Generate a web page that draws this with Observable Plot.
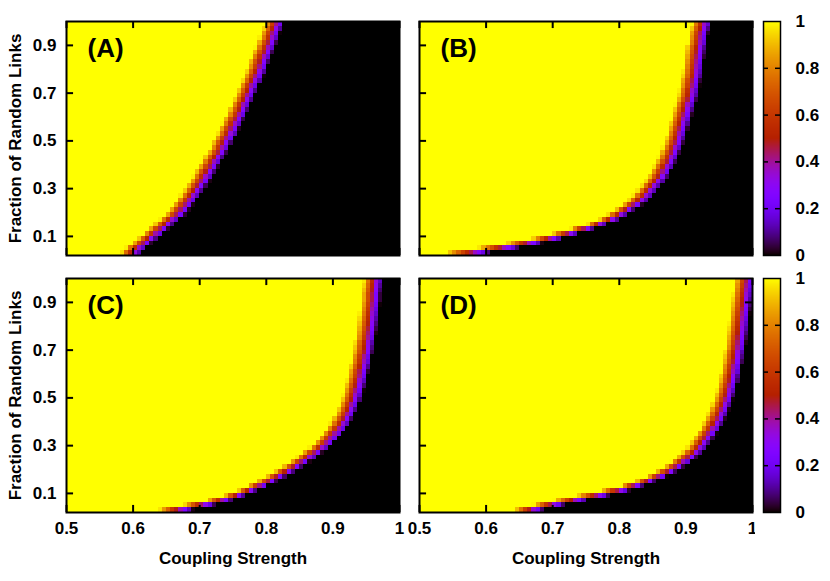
<!DOCTYPE html>
<html><head><meta charset="utf-8">
<script src="https://cdn.jsdelivr.net/npm/d3@7"></script>
<script src="https://cdn.jsdelivr.net/npm/@observablehq/plot@0.6"></script>
<style>
body{margin:0;background:#fff;}
#wrap{position:relative;width:830px;height:581px;}
#wrap svg{position:absolute;top:0;}
</style></head><body><div id="wrap"></div>
<script>
// ---- data ----
const panelNames = ["A", "B", "C", "D"];
const panelCol = {A: "left", B: "right", C: "left", D: "right"};
const panelRow = {A: "top", B: "top", C: "bottom", D: "bottom"};
// row centres (fraction of random links)
const rowY = [0.03,0.05,0.07,0.09,0.11,0.13,0.15,0.17,0.19,0.21,0.23,0.25,0.27,0.29,0.31,0.33,0.35,0.37,0.39,0.41,0.43,0.45,0.47,0.49,0.51,0.53,0.55,0.57,0.59,0.61,0.63,0.65,0.67,0.69,0.71,0.73,0.75,0.77,0.79,0.81,0.83,0.85,0.87,0.89,0.91,0.93,0.95,0.97,0.99];
// coupling strength where the order parameter crosses 0.5, per row
const boundaryA = [0.598,0.605,0.614,0.622,0.631,0.639,0.647,0.655,0.664,0.670,0.676,0.681,0.686,0.691,0.696,0.701,0.705,0.709,0.714,0.718,0.722,0.727,0.731,0.734,0.738,0.742,0.745,0.749,0.752,0.756,0.759,0.762,0.766,0.769,0.772,0.775,0.779,0.782,0.785,0.788,0.790,0.793,0.796,0.799,0.802,0.805,0.807,0.810,0.813];
const boundaryB = [0.575,0.620,0.658,0.692,0.720,0.745,0.767,0.785,0.798,0.809,0.820,0.829,0.836,0.842,0.848,0.854,0.859,0.863,0.867,0.871,0.874,0.877,0.880,0.883,0.885,0.887,0.889,0.891,0.893,0.895,0.897,0.899,0.902,0.904,0.905,0.907,0.908,0.910,0.911,0.912,0.913,0.914,0.915,0.916,0.918,0.919,0.920,0.922,0.924];
const boundaryC = [0.665,0.700,0.730,0.753,0.772,0.788,0.802,0.815,0.828,0.840,0.851,0.861,0.870,0.880,0.888,0.894,0.900,0.906,0.911,0.915,0.919,0.922,0.925,0.928,0.930,0.932,0.934,0.936,0.938,0.939,0.941,0.943,0.944,0.946,0.947,0.948,0.950,0.951,0.952,0.953,0.954,0.955,0.956,0.957,0.958,0.958,0.959,0.960,0.961];
const boundaryD = [0.665,0.695,0.728,0.762,0.795,0.820,0.840,0.857,0.871,0.883,0.893,0.902,0.910,0.917,0.922,0.927,0.932,0.937,0.941,0.945,0.948,0.951,0.954,0.957,0.959,0.961,0.963,0.965,0.966,0.968,0.969,0.971,0.972,0.973,0.975,0.976,0.977,0.978,0.979,0.980,0.981,0.982,0.983,0.984,0.985,0.986,0.987,0.988,0.989];
const boundaries = {A: boundaryA, B: boundaryB, C: boundaryC, D: boundaryD};
const xTicks = [0.5, 0.6, 0.7, 0.8, 0.9, 1];
const yTicks = [0.1, 0.3, 0.5, 0.7, 0.9];
const cbTicks = [0, 0.2, 0.4, 0.6, 0.8, 1];
const cbInnerTicks = [0.2, 0.4, 0.6, 0.8];
const xTitle = "Coupling Strength";
const yTitle = "Fraction of Random Links";

// ---- grid of cells ----
const xMin = 0.5, xMax = 1, nCols = 80, cellW = (xMax - xMin) / nCols, rowH = 0.02;
function buildCells(name) {
  const xc = boundaries[name], out = [];
  xc.forEach((c, i) => {
    const p = Math.max(0, i - 1), n = Math.min(xc.length - 1, i + 1);
    const shift = Math.abs(xc[n] - xc[p]) / (n - p);
    const w = Math.max(0.03, 1.5 * shift);
    let cur = null;
    for (let k = 0; k < nCols; k++) {
      const x1 = xMin + k * cellW, x2 = x1 + cellW, xm = x1 + cellW / 2;
      const v = Math.max(0, Math.min(1, 0.5 - (xm - c) / w));
      if (cur && cur.v === v && (v === 0 || v === 1)) { cur.x2 = x2; continue; }
      cur = {fx: panelCol[name], fy: panelRow[name], x1, x2, y1: rowY[i] - rowH / 2, y2: rowY[i] + rowH / 2, v};
      out.push(cur);
    }
  });
  return out;
}
const cells = panelNames.flatMap(buildCells);

const gnuplot = t => `rgb(${Math.round(255 * Math.sqrt(t))},${Math.round(255 * t * t * t)},${Math.round(255 * Math.max(0, Math.sin(2 * Math.PI * t)))})`;
const colorOpts = {type: "linear", domain: [0, 1], interpolate: gnuplot};

// ---- layout ----
const mL = 66, mR = 78, mT = 21, mB = 69, WIDTH = 830, HEIGHT = 581;
const padX = 0.057, padY = 0.09;
const W = (WIDTH - mL - mR) / (2 - padX) * (1 - padX);
const H = (HEIGHT - mT - mB) / (2 - padY) * (1 - padY);
const fxOpts = {domain: ["left", "right"], paddingInner: padX, paddingOuter: 0, axis: null};
const fyOpts = {domain: ["top", "bottom"], paddingInner: padY, paddingOuter: 0, axis: null};
const font = {fontFamily: "'Liberation Sans', Arial, Helvetica, sans-serif", fontSize: "17px", fontWeight: "bold", color: "black", background: "white", overflow: "visible"};

const letterData = panelNames.map(p => ({fx: panelCol[p], fy: panelRow[p], text: `(${p})`}));
const xTitleData = [{fx: "left", fy: "bottom"}, {fx: "right", fy: "bottom"}];
const yTitleData = [{fx: "left", fy: "top"}, {fx: "left", fy: "bottom"}];

const main = Plot.plot({
  width: WIDTH, height: HEIGHT,
  marginLeft: mL, marginRight: mR, marginTop: mT, marginBottom: mB,
  x: {domain: [xMin, xMax]}, y: {domain: [0.02, 1.0]},
  fx: fxOpts, fy: fyOpts, color: colorOpts,
  style: font,
  marks: [
    Plot.rect(cells, {x1: "x1", x2: "x2", y1: "y1", y2: "y2", fx: "fx", fy: "fy", fill: "v", shapeRendering: "crispEdges"}),
    Plot.tickX(xTicks, {x: d => d, insetTop: H - 7, stroke: "black", strokeWidth: 2}),
    Plot.tickX(xTicks, {x: d => d, insetBottom: H - 7, stroke: "black", strokeWidth: 2}),
    Plot.tickY(yTicks, {y: d => d, insetRight: W - 7, stroke: "black", strokeWidth: 2}),
    Plot.tickY(yTicks, {y: d => d, insetLeft: W - 7, stroke: "black", strokeWidth: 2}),
    Plot.frame({stroke: "black", strokeWidth: 2}),
    Plot.axisX({ticks: xTicks, tickSize: 0, tickPadding: 9, tickFormat: d => String(d), label: null}),
    Plot.axisY({ticks: yTicks, tickSize: 0, tickPadding: 10, tickFormat: d => String(d), label: null}),
    Plot.text(letterData, {fx: "fx", fy: "fy", text: "text", frameAnchor: "top-left", textAnchor: "start", lineAnchor: "top", dx: 21, dy: 17, fontSize: 26, fontWeight: "bold"}),
    Plot.text(xTitleData, {fx: "fx", fy: "fy", text: () => xTitle, frameAnchor: "bottom", textAnchor: "middle", lineAnchor: "middle", dy: 46}),
    Plot.text(yTitleData, {fx: "fx", fy: "fy", text: () => yTitle, frameAnchor: "left", textAnchor: "middle", lineAnchor: "middle", rotate: -90, dx: -51})
  ]
});
document.getElementById("wrap").appendChild(main);

// ---- colour bars ----
const ramp = [];
for (const r of ["top", "bottom"]) for (let i = 0; i < 234; i++) ramp.push({fy: r, y1: i / 234, y2: (i + 1) / 234, v: (i + 0.5) / 234});
const bar = Plot.plot({
  width: 75, height: HEIGHT,
  marginLeft: 8, marginRight: 50, marginTop: mT, marginBottom: mB,
  x: {domain: [0, 1], axis: null}, y: {domain: [0, 1]},
  fy: fyOpts, color: colorOpts,
  style: font,
  marks: [
    Plot.rect(ramp, {x1: 0, x2: 1, y1: "y1", y2: "y2", fy: "fy", fill: "v", shapeRendering: "crispEdges"}),
    Plot.tickY(cbInnerTicks, {y: d => d, insetRight: 12, stroke: "black", strokeWidth: 1.5}),
    Plot.tickY(cbInnerTicks, {y: d => d, insetLeft: 12, stroke: "black", strokeWidth: 1.5}),
    Plot.frame({stroke: "black", strokeWidth: 1.5}),
    Plot.axisY({ticks: cbTicks, anchor: "right", tickSize: 0, tickPadding: 15, tickFormat: d => String(d), label: null})
  ]
});
bar.style.left = "755px";
document.getElementById("wrap").appendChild(bar);
</script></body></html>
